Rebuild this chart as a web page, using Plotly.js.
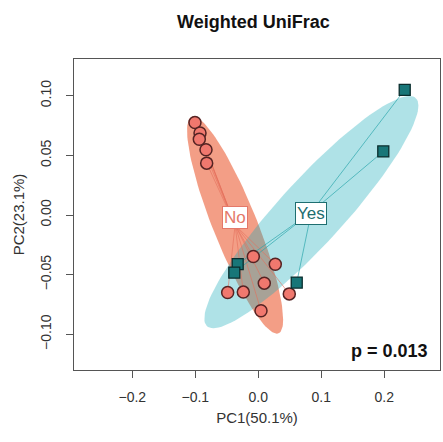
<!DOCTYPE html>
<html>
<head>
<meta charset="utf-8">
<script src="https://cdn.plot.ly/plotly-3.0.1.min.js"></script>
<style>html,body{margin:0;padding:0;background:#fff;}#chart{width:443px;height:442px;}</style>
</head>
<body>
<div id="chart"></div>
<script>
// Group "No" (PC1, PC2)
const noX = [-0.1005, -0.0925, -0.0936, -0.0830, -0.0819, -0.0079, 0.0270, 0.0095, -0.0486, -0.0238, 0.0492, 0.0043];
const noY = [0.0776, 0.0687, 0.0636, 0.0547, 0.0435, -0.0348, -0.0413, -0.0571, -0.0650, -0.0646, -0.0661, -0.0802];
// Group "Yes"
const yesX = [0.2324, 0.1984, -0.0327, -0.0381, 0.0610];
const yesY = [0.1050, 0.0533, -0.0412, -0.0482, -0.0566];
const groupNames = ["No", "Yes"];
const xTicks = [-0.2, -0.1, 0.0, 0.1, 0.2];
const yTicks = [-0.10, -0.05, 0.00, 0.05, 0.10];
const pText = "p = 0.013";

function mean(a){return a.reduce((s,v)=>s+v,0)/a.length;}
function ellipse(xs, ys, k){
  const mx = mean(xs), my = mean(ys), n = xs.length;
  let a=0,b=0,c=0;
  for(let i=0;i<n;i++){const dx=xs[i]-mx, dy=ys[i]-my; a+=dx*dx; b+=dx*dy; c+=dy*dy;}
  a/=n; b/=n; c/=n;
  const l11=Math.sqrt(a), l21=b/l11, l22=Math.sqrt(Math.max(c-l21*l21,0));
  const ex=[], ey=[];
  for(let i=0;i<=120;i++){
    const t=2*Math.PI*i/120, u=Math.cos(t), v=Math.sin(t);
    ex.push(mx + k*l11*u);
    ey.push(my + k*(l21*u + l22*v));
  }
  return {x:ex, y:ey, cx:mx, cy:my};
}
function spider(xs, ys, cx, cy){
  const sx=[], sy=[];
  for(let i=0;i<xs.length;i++){sx.push(cx, xs[i], null); sy.push(cy, ys[i], null);}
  return {x:sx, y:sy};
}
const eNo = ellipse(noX, noY, 1.5);
const eYes = ellipse(yesX, yesY, 1.5);
const sNo = spider(noX, noY, eNo.cx, eNo.cy);
const sYes = spider(yesX, yesY, eYes.cx, eYes.cy);

const FONT = 'Liberation Sans, Arial, Helvetica, sans-serif';
const traces = [
  {x:eNo.x, y:eNo.y, mode:'lines', fill:'toself', fillcolor:'rgb(243,158,134)', line:{width:0, color:'rgba(0,0,0,0)'}, hoverinfo:'skip', showlegend:false},
  {x:eYes.x, y:eYes.y, mode:'lines', fill:'toself', fillcolor:'rgba(20,170,185,0.34)', line:{width:0, color:'rgba(0,0,0,0)'}, hoverinfo:'skip', showlegend:false},
  {x:sNo.x, y:sNo.y, mode:'lines', line:{width:0.8, color:'rgba(228,110,90,0.75)'}, hoverinfo:'skip', showlegend:false},
  {x:sYes.x, y:sYes.y, mode:'lines', line:{width:0.8, color:'rgba(40,165,170,0.85)'}, hoverinfo:'skip', showlegend:false},
  {x:noX, y:noY, mode:'markers', name:groupNames[0], marker:{symbol:'circle', size:12, color:'rgb(240,120,110)', line:{width:1.5, color:'rgb(85,35,35)'}}, showlegend:false},
  {x:yesX, y:yesY, mode:'markers', name:groupNames[1], marker:{symbol:'square', size:11, color:'rgb(24,118,120)', line:{width:1.3, color:'rgb(10,45,45)'}}, showlegend:false}
];

const axisCommon = {showgrid:false, zeroline:false, showline:true, mirror:true, linecolor:'#555', linewidth:1,
  ticks:'outside', ticklen:7, tickcolor:'#555', tickwidth:1, tickfont:{family:FONT, size:14, color:'#333'}};

const layout = {
  width:443, height:442,
  margin:{l:74, r:3, t:59, b:72},
  paper_bgcolor:'#fff', plot_bgcolor:'#fff',
  title:{text:'<b>Weighted UniFrac</b>', x:0.572, xanchor:'center', y:0.95, yanchor:'middle', font:{family:FONT, size:18, color:'#111'}},
  xaxis:Object.assign({}, axisCommon, {range:[-0.2925, 0.2884], tickvals:xTicks, tickformat:'.1f', ticklabelstandoff:7,
    title:{text:'PC1(50.1%)', standoff:8, font:{family:FONT, size:15, color:'#333'}}}),
  yaxis:Object.assign({}, axisCommon, {range:[-0.1299, 0.1308], tickvals:yTicks, tickformat:'.2f', tickangle:-90, ticklabelstandoff:9,
    title:{text:'PC2(23.1%)', standoff:10, font:{family:FONT, size:15, color:'#333'}}}),
  annotations:[
    {x:eNo.cx, y:eNo.cy, xref:'x', yref:'y', text:groupNames[0], showarrow:false, yshift:8,
     font:{family:FONT, size:17, color:'rgb(228,120,105)'}, bgcolor:'#fff', bordercolor:'rgb(228,120,105)', borderwidth:1, borderpad:1},
    {x:eYes.cx, y:eYes.cy, xref:'x', yref:'y', text:groupNames[1], showarrow:false, yshift:-1,
     font:{family:FONT, size:17, color:'rgb(30,110,112)'}, bgcolor:'#fff', bordercolor:'rgb(30,110,112)', borderwidth:1, borderpad:1},
    {x:1, y:0.06, xref:'paper', yref:'paper', xanchor:'right', yanchor:'middle', xshift:-10, text:'<b>'+pText+'</b>', showarrow:false,
     font:{family:FONT, size:18, color:'#111'}}
  ]
};
Plotly.newPlot('chart', traces, layout, {displayModeBar:false, staticPlot:true});
</script>
</body>
</html>
